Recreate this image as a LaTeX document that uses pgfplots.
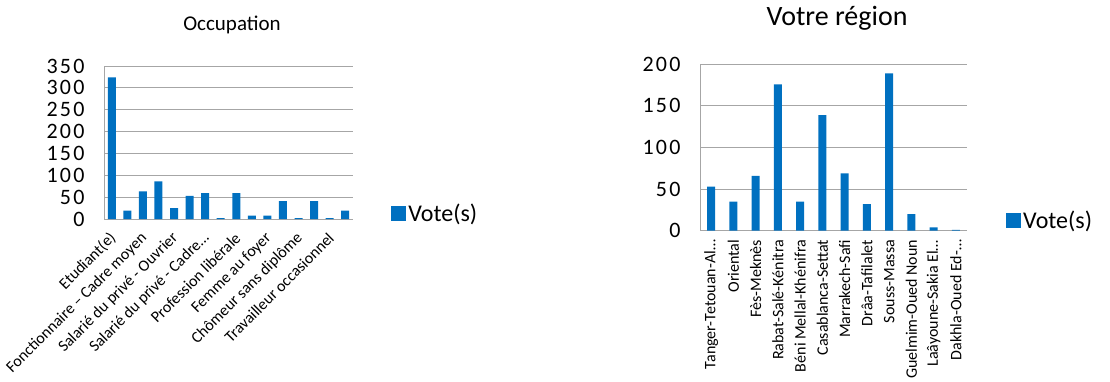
\documentclass[border=0pt]{standalone}
\usepackage{fontspec}
\setmainfont{Carlito}
\newfontfamily\tickfont[LetterSpace=10]{Carlito}
\usepackage{pgfplots}
\pgfplotsset{compat=1.18}
\definecolor{barblue}{HTML}{0070C0}
\definecolor{gridgray}{HTML}{A6A6A6}

\pgfplotsset{
  officebar/.style={
    scale only axis,
    ybar, bar width=8pt,
    ymin=0,
    axis x line*=bottom, axis y line*=left,
    axis line style={draw=gridgray, line width=1pt},
    ymajorgrids, grid style={draw=gridgray, line width=1pt},
    major tick length=0pt,
    tick label style={font=\tickfont\fontsize{22}{24}\selectfont},
    /pgf/number format/assume math mode=true,
    yticklabel style={xshift=-16pt},
    legend style={draw=none, fill=none, font=\fontsize{24}{26}\selectfont,
      anchor=west, inner sep=0pt},
    legend image code/.code={\fill[barblue] (0pt,-7.5pt) rectangle (15pt,7.5pt);},
  }
}

\begin{document}
\begin{tikzpicture}
\useasboundingbox (0,0) rectangle (1110pt,381pt);

% Occupation
\begin{axis}[officebar,
  at={(104pt,162pt)}, anchor=south west,
  width=249pt, height=153pt,
  xmin=-0.5, xmax=15.5, ymax=350,
  ytick={0,50,...,350},
  xtick={0,2,...,14},
  xticklabels={Etudiant(e), Fonctionnaire – Cadre moyen, Salarié du privé - Ouvrier,
    Salarié du privé - Cadre…, Profession libérale, Femme au foyer,
    Chômeur sans diplôme, Travailleur occasionnel},
  xticklabel style={xshift=3pt, yshift=-15pt, rotate=45, anchor=east, inner sep=2pt,
    font=\fontsize{16}{18}\selectfont},
  legend style={at={(1.153,0.036)}},
]
\addplot[fill=barblue, draw=none] coordinates {(0,324) (1,19) (2,63) (3,86) (4,25)
  (5,53) (6,59) (7,2) (8,59) (9,8) (10,8) (11,41) (12,2) (13,41) (14,2) (15,19)};
\addlegendentry{Vote(s)}
\end{axis}
\node[font=\fontsize{21}{23}\selectfont] at (232pt,356pt) {Occupation};

% Votre région
\begin{axis}[officebar,
  at={(700pt,150.3pt)}, anchor=south west,
  width=267pt, height=166.4pt,
  xmin=-0.5, xmax=11.5, ymax=200,
  ytick={0,50,...,200},
  xtick={0,...,11},
  xticklabels={Tanger-Tetouan-Al…, Oriental, Fès-Meknès, Rabat-Salé-Kénitra,
    Béni Mellal-Khénifra, Casablanca-Settat, Marrakech-Safi, Drâa-Tafilalet,
    Souss-Massa, Guelmim-Oued Noun, Laâyoune-Sakia El…, Dakhla-Oued Ed-…},
  xticklabel style={yshift=-6pt, rotate=90, anchor=east, inner sep=3pt,
    font=\fontsize{16}{18}\selectfont},
  legend style={at={(1.146,0.064)}},
]
\addplot[fill=barblue, draw=none] coordinates {(0,53) (1,35) (2,66) (3,176) (4,35)
  (5,139) (6,69) (7,32) (8,189) (9,20) (10,4) (11,1)};
\addlegendentry{Vote(s)}
\end{axis}
\node[font=\fontsize{28}{30}\selectfont] at (837pt,363pt) {Votre région};
\end{tikzpicture}
\end{document}
